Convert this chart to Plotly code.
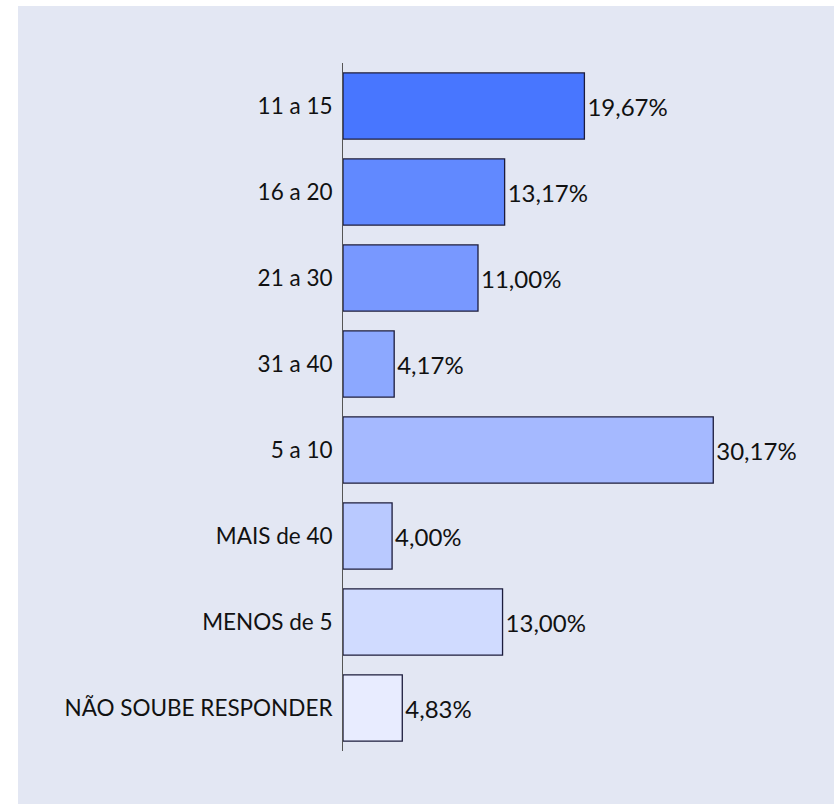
import plotly.graph_objects as go

categories = ["11 a 15", "16 a 20", "21 a 30", "31 a 40", "5 a 10",
              "MAIS de 40", "MENOS de 5", "NÃO SOUBE RESPONDER"]
values = [19.67, 13.17, 11.00, 4.17, 30.17, 4.00, 13.00, 4.83]
labels = ["19,67%", "13,17%", "11,00%", "4,17%", "30,17%", "4,00%", "13,00%", "4,83%"]
colors = ["#4876ff", "#6189ff", "#7898ff", "#8ca8ff", "#a5b9ff",
          "#b9c9ff", "#d0dbff", "#e8ecff"]

W, H = 834, 804
ml, mr, mt, mb = 343, 86, 63, 53
pw, ph = W - ml - mr, H - mt - mb
bg = "#e3e7f3"

fig = go.Figure(go.Bar(
    y=categories, x=values, orientation="h",
    marker=dict(color=colors, line=dict(color="#1c1c3c", width=1.3)),
    text=labels, textposition="outside", cliponaxis=False,
    textfont=dict(family="Lato", size=24, color="#111111"),
    width=0.77,
))

fig.update_layout(
    width=W, height=H,
    margin=dict(l=ml, r=mr, t=mt, b=mb, pad=0),
    paper_bgcolor=bg, plot_bgcolor=bg,
    showlegend=False,
    font=dict(family="Lato", size=22, color="#111111"),
    xaxis=dict(range=[0, 33], visible=False, fixedrange=True),
    yaxis=dict(autorange="reversed", showline=True, linecolor="#555555", linewidth=1,
               ticks="", showgrid=False, zeroline=False, ticklabelstandoff=5,
               fixedrange=True,
               tickfont=dict(family="Lato", size=22.5, color="#111111")),
    shapes=[
        dict(type="rect", xref="paper", yref="paper", layer="below",
             x0=-ml / pw - 0.05, x1=(18 - ml) / pw, y0=-1, y1=2,
             fillcolor="white", line=dict(width=0)),
        dict(type="rect", xref="paper", yref="paper", layer="below",
             x0=-2, x1=2, y0=1 + (mt - 6) / ph, y1=1 + mt / ph + 0.05,
             fillcolor="white", line=dict(width=0)),
    ],
)

fig.write_html("out.html", config={"displayModeBar": False},
               post_script="document.body.style.margin='0';document.body.style.overflow='hidden';")
